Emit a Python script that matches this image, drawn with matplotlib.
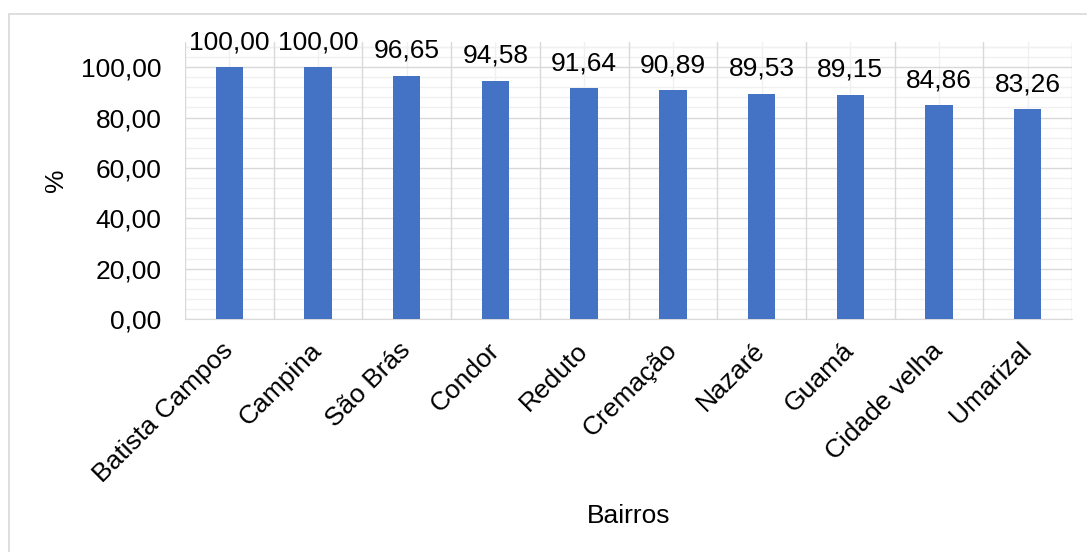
import matplotlib
matplotlib.use("Agg")
import matplotlib.pyplot as plt
from matplotlib.patches import Rectangle
from matplotlib.ticker import MultipleLocator, FixedLocator
import numpy as np

bairros = ["Batista Campos", "Campina", "São Brás", "Condor", "Reduto",
           "Cremação", "Nazaré", "Guamá", "Cidade velha", "Umarizal"]
valores = [100.00, 100.00, 96.65, 94.58, 91.64, 90.89, 89.53, 89.15, 84.86, 83.26]
yticks = [0, 20, 40, 60, 80, 100]

plt.rcParams['font.family'] = ['Liberation Sans', 'DejaVu Sans']
fsize = 19
azul = '#4472C4'

fig = plt.figure(figsize=(10.87, 5.52), dpi=100)
ax = fig.add_axes([185/1087, 1-319/552, (1072-185)/1087, (319-42)/552])

x = np.arange(len(bairros))
ax.bar(x, valores, width=0.31, color=azul, zorder=3)

for xi, v in zip(x, valores):
    ax.annotate(f"{v:.2f}".replace('.', ','), (xi, v), xytext=(0, 13),
                textcoords='offset points', ha='center', va='baseline',
                fontsize=fsize, zorder=4)

ax.set_xlim(-0.5, len(bairros) - 0.5)
ax.set_ylim(0, 110)
ax.set_yticks(yticks)
ax.set_yticklabels([f"{t:.2f}".replace('.', ',') for t in yticks], fontsize=fsize)
ax.yaxis.set_minor_locator(MultipleLocator(4))
ax.set_xticks(x)
ax.set_xticklabels(bairros, fontsize=fsize, rotation=45, ha='right',
                   va='center', rotation_mode='anchor')
ax.xaxis.set_minor_locator(FixedLocator(np.arange(-0.5, len(bairros), 1.0)))

ax.tick_params(axis='y', which='both', length=0, pad=17)
ax.tick_params(axis='x', which='both', length=0, pad=20)

# grade estilo Excel
ax.grid(False)
for t in np.arange(0, 110, 4):
    if t % 20:
        ax.axhline(t, color='#F0F0F0', lw=1, zorder=1)
ax.axhline(108, color='#F0F0F0', lw=1, zorder=1)
for t in yticks:
    ax.axhline(t, color='#D9D9D9', lw=1, zorder=2)
for xi in x:
    ax.axvline(xi, color='#F0F0F0', lw=1, zorder=1)
for xb in np.arange(-0.5, len(bairros), 1.0):
    ax.axvline(xb, color='#D9D9D9', lw=1, zorder=2)

for s in ['top', 'right', 'left']:
    ax.spines[s].set_visible(False)
ax.spines['bottom'].set_color('#D9D9D9')
ax.spines['bottom'].set_zorder(2)

ax.set_ylabel("%", fontsize=fsize)
ax.yaxis.set_label_coords(-0.132, 0.5)
ax.set_xlabel("Bairros", fontsize=fsize)
ax.xaxis.set_label_coords(0.5, -0.668)

fig.patches.append(Rectangle((9/1087, -0.1), 1.2, 1 - 14/552 + 0.1,
                             transform=fig.transFigure, fill=False,
                             edgecolor='#D9D9D9', lw=1.2))

fig.savefig("out.png", dpi=100)
